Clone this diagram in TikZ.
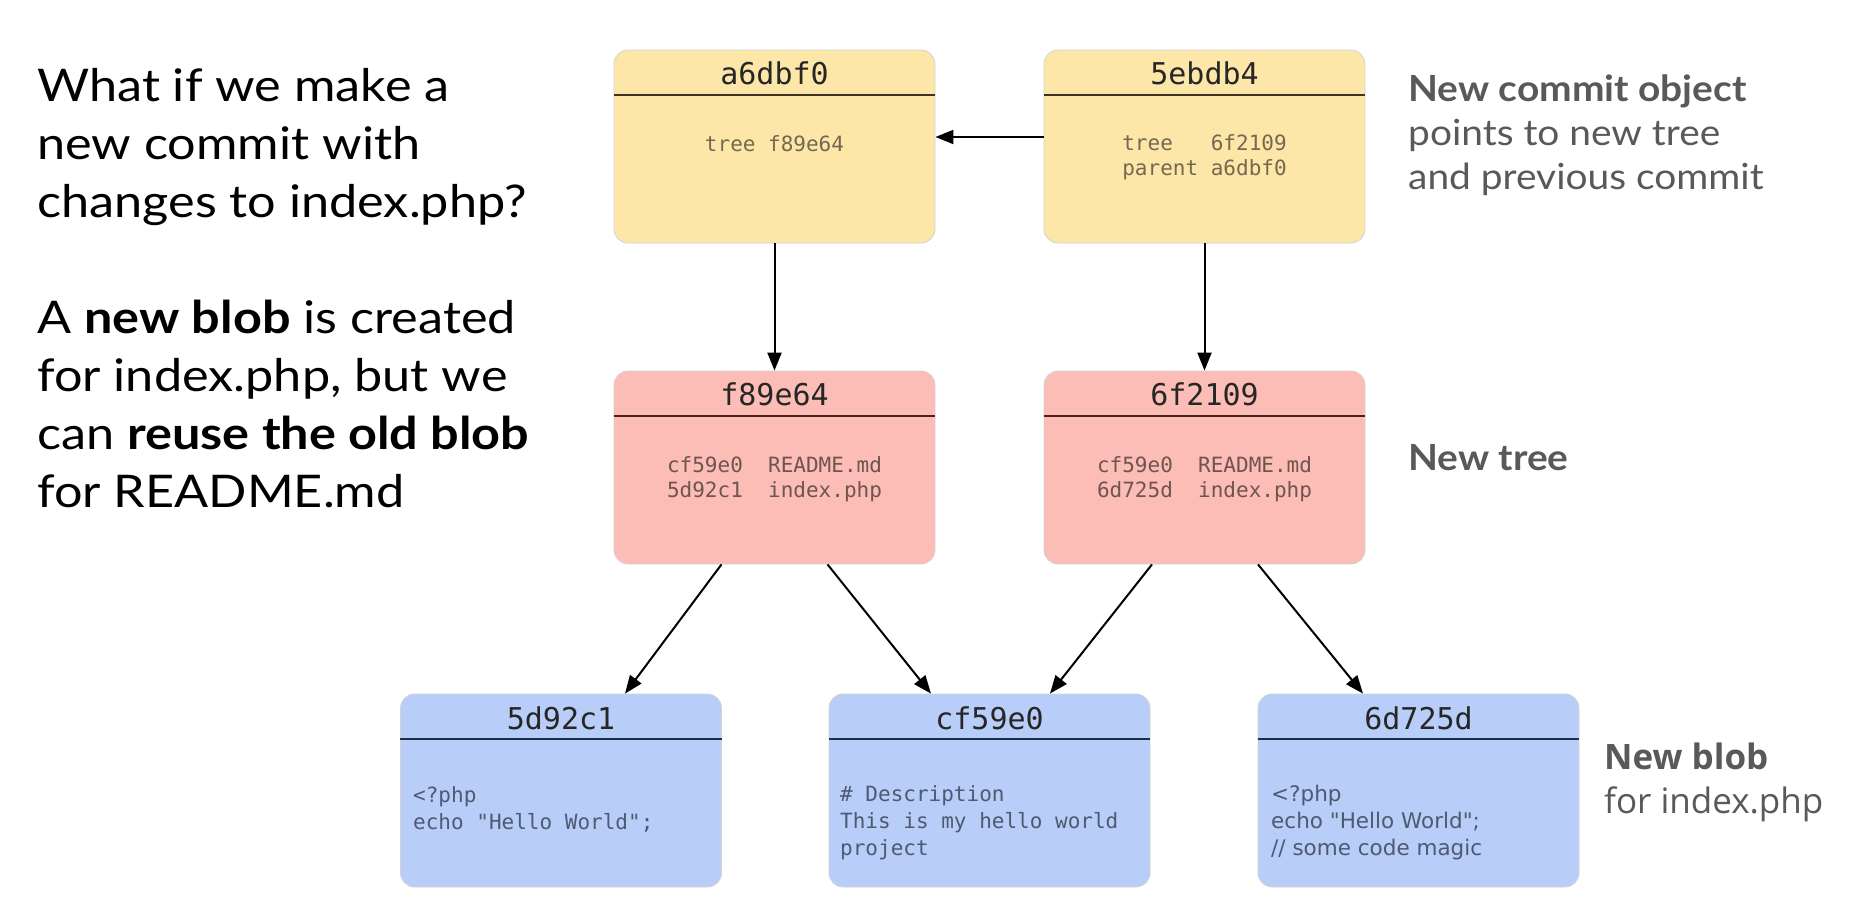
\documentclass[tikz,border=0pt]{standalone}
\usepackage{fontspec}
\setmainfont{Lato}
\newfontfamily\leftf[FakeStretch=1.12]{Lato}
\newfontfamily\sidef[FakeStretch=1.08]{Lato}
\newfontfamily\monof{DejaVu Sans Mono}
\newfontfamily\dejav{DejaVu Sans}
\newfontfamily\opens{Open Sans}
\usetikzlibrary{arrows.meta}
\definecolor{cfill}{HTML}{FCE6A8}
\definecolor{tfill}{HTML}{FBBDB5}
\definecolor{bfill}{HTML}{B8CDF8}
\definecolor{chdr}{HTML}{3E3220}
\definecolor{thdr}{HTML}{4A2222}
\definecolor{bhdr}{HTML}{1E2E48}
\definecolor{ctxt}{HTML}{75684F}
\definecolor{ttxt}{HTML}{705450}
\definecolor{btxt}{HTML}{4E5A72}
\definecolor{boxedge}{HTML}{D4D4D4}
\definecolor{sidetxt}{HTML}{595959}
\begin{document}
\begin{tikzpicture}[x=1pt,y=-1pt,
  box/.style={draw=boxedge, line width=0.8pt, rounded corners=14pt, minimum width=321pt, minimum height=193pt, inner sep=0pt},
  hdrline/.style={line width=2pt},
  titletext/.style={font=\monof\fontsize{30}{32}\selectfont, text=black!85, inner sep=0pt},
  bodytext/.style={font=\monof\fontsize{21}{25}\selectfont, align=left, inner sep=0pt},
  blobtext/.style={font=\monof\fontsize{21}{27}\selectfont, align=left, inner sep=0pt, anchor=west, text=btxt},
  conn/.style={line width=2pt, -{Triangle[length=18pt,width=14pt]}},
  lefttext/.style={font=\leftf\fontsize{45}{58}\selectfont, align=left, anchor=base west, inner sep=0pt},
  sidetext/.style={font=\sidef\fontsize{36}{44}\selectfont, text=sidetxt, align=left, anchor=base west, inner sep=0pt}
]
\fill[white] (0,0) rectangle (1866,916);
\useasboundingbox (0,0) rectangle (1866,916);

% commits
\node[box, fill=cfill] (c1) at (774.5,146.5) {};
\node[box, fill=cfill] (c2) at (1204.5,146.5) {};
% trees
\node[box, fill=tfill] (t1) at (774.5,467.5) {};
\node[box, fill=tfill] (t2) at (1204.5,467.5) {};
% blobs
\node[box, fill=bfill] (b1) at (561,790.5) {};
\node[box, fill=bfill] (b2) at (989.5,790.5) {};
\node[box, fill=bfill] (b3) at (1418.5,790.5) {};

\foreach \n/\c in {c1/chdr,c2/chdr,t1/thdr,t2/thdr,b1/bhdr,b2/bhdr,b3/bhdr}{
  \draw[hdrline, draw=\c] ([yshift=-45pt]\n.north west) -- ([yshift=-45pt]\n.north east);
}

% titles
\node[titletext] (c1t) at (774.5,73) {a6dbf0};
\node[titletext] (c2t) at (1204.5,73) {5ebdb4};
\node[titletext] (t1t) at (774.5,394) {f89e64};
\node[titletext] (t2t) at (1204.5,394) {6f2109};
\node[titletext] (b1t) at (561,718) {5d92c1};
\node[titletext] (b2t) at (989.5,718) {cf59e0};
\node[titletext] (b3t) at (1418.5,718) {6d725d};

% bodies
\node[bodytext, text=ctxt] (c1b) at (774.5,144) {tree f89e64};
\node[bodytext, text=ctxt] (c2b) at (1204.5,157) {tree\ \ \ 6f2109\\parent a6dbf0};
\node[bodytext, text=ttxt] (t1b) at (774.5,479) {cf59e0\ \ README.md\\5d92c1\ \ index.php};
\node[bodytext, text=ttxt] (t2b) at (1204.5,479) {cf59e0\ \ README.md\\6d725d\ \ index.php};
\node[blobtext] (b1b) at (413,809) {<?php\\echo "Hello World";};
\node[blobtext] (b2b) at (840,822.5) {\# Description\\This is my hello world\\project};
\node[blobtext, font=\dejav\fontsize{21.5}{27}\selectfont] (b3b) at (1271,822.5) {<?php\\echo "Hello World";\\// some code magic};

% connectors
\draw[conn] ([yshift=9.5pt]c2.west) -- ([yshift=9.5pt]c1.east);
\draw[conn] (c1.south) -- (t1.north);
\draw[conn] (c2.south) -- (t2.north);
\draw[conn] ([xshift=-53pt]t1.south) -- ([xshift=64pt]b1.north);
\draw[conn] ([xshift=53pt]t1.south) -- ([xshift=-58.5pt]b2.north);
\draw[conn] ([xshift=-52.5pt]t2.south) -- ([xshift=60.5pt]b2.north);
\draw[conn] ([xshift=53.5pt]t2.south) -- ([xshift=-55.5pt]b3.north);

% left text (anchor at baseline of last line)
\node[lefttext] (q) at (37,507) {What if we make a\\new commit with\\changes to index.php?\\[58pt]A \textbf{new blob} is created\\for index.php, but we\\can \textbf{reuse the old blob}\\for README.md};

% side text (anchor at baseline of last line)
\node[sidetext] (s1) at (1408,189) {\textbf{New commit object}\\points to new tree\\and previous commit};
\node[sidetext] (s2) at (1408,470) {\textbf{New tree}};
\node[sidetext, font=\opens\fontsize{35}{44}\selectfont] (s3) at (1604,813) {\textbf{New blob}\\for index.php};
\end{tikzpicture}
\end{document}
